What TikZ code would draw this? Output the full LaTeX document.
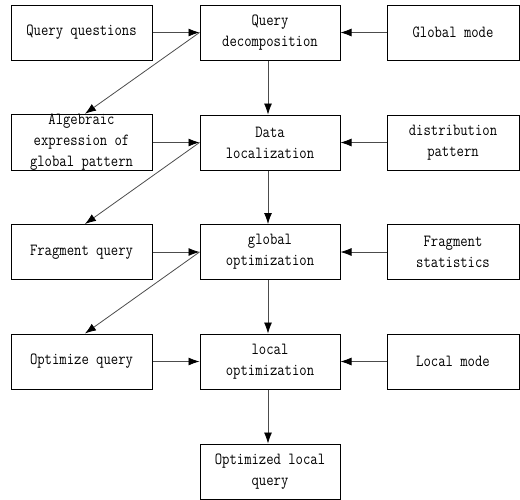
\documentclass[tikz,border=0pt]{standalone}
\usepackage{fontspec}
\usepackage{tikz}
\usetikzlibrary{arrows.meta}
\newfontfamily\boxfont[FakeStretch=0.84]{Latin Modern Mono}

\tikzset{
  stepbox/.style={draw, line width=1pt, minimum width=#1, minimum height=55pt,
    inner sep=0pt, align=center, font=\boxfont\fontsize{17}{21}\selectfont},
  stepbox/.default=140pt,
  flow/.style={draw=black!70, line width=0.8pt, -{Latex[length=11pt,width=8pt,color=black]}}
}

\begin{document}
\begin{tikzpicture}[x=1pt, y=-1pt]
\useasboundingbox (0,0) rectangle (520,499);

% left column
\node[stepbox=141pt] (qq) at (81.5, 32.5) {Query questions};
\node[stepbox=141pt] (alg) at (81.5, 142.5) {Algebraic\\expression of\\global pattern};
\node[stepbox=141pt] (fq) at (81.5, 252) {Fragment query};
\node[stepbox=141pt] (oq) at (81.5, 361.5) {Optimize query};

% middle column
\node[stepbox] (qd) at (270, 32.5) {Query\\decomposition};
\node[stepbox] (dl) at (270, 142.5) {Data\\localization};
\node[stepbox] (go) at (270, 252) {global\\optimization};
\node[stepbox] (lo) at (270, 361.5) {local\\optimization};
\node[stepbox] (olq) at (270, 471.5) {Optimized local\\query};

% right column
\node[stepbox=132pt] (gm) at (453, 32.5) {Global mode};
\node[stepbox=132pt] (dp) at (453, 142.5) {distribution\\pattern};
\node[stepbox=132pt] (fs) at (453, 252) {Fragment\\statistics};
\node[stepbox=132pt] (lm) at (453, 361.5) {Local mode};

\draw[flow] (qq) -- (qd);
\draw[flow] (alg) -- (dl);
\draw[flow] (fq) -- (go);
\draw[flow] (oq) -- (lo);

\draw[flow] (gm) -- (qd);
\draw[flow] (dp) -- (dl);
\draw[flow] (fs) -- (go);
\draw[flow] (lm) -- (lo);

\draw[flow] ([xshift=-2pt]qd.south) -- ([xshift=-2pt]dl.north);
\draw[flow] ([xshift=-2pt]dl.south) -- ([xshift=-2pt]go.north);
\draw[flow] ([xshift=-2pt]go.south) -- ([xshift=-2pt]lo.north);
\draw[flow] ([xshift=-2pt]lo.south) -- ([xshift=-2pt]olq.north);

\draw[flow] (qd.west) -- ([xshift=3.5pt]alg.north);
\draw[flow] (dl.west) -- ([xshift=3.5pt]fq.north);
\draw[flow] (go.west) -- ([xshift=3.5pt]oq.north);
\end{tikzpicture}
\end{document}
